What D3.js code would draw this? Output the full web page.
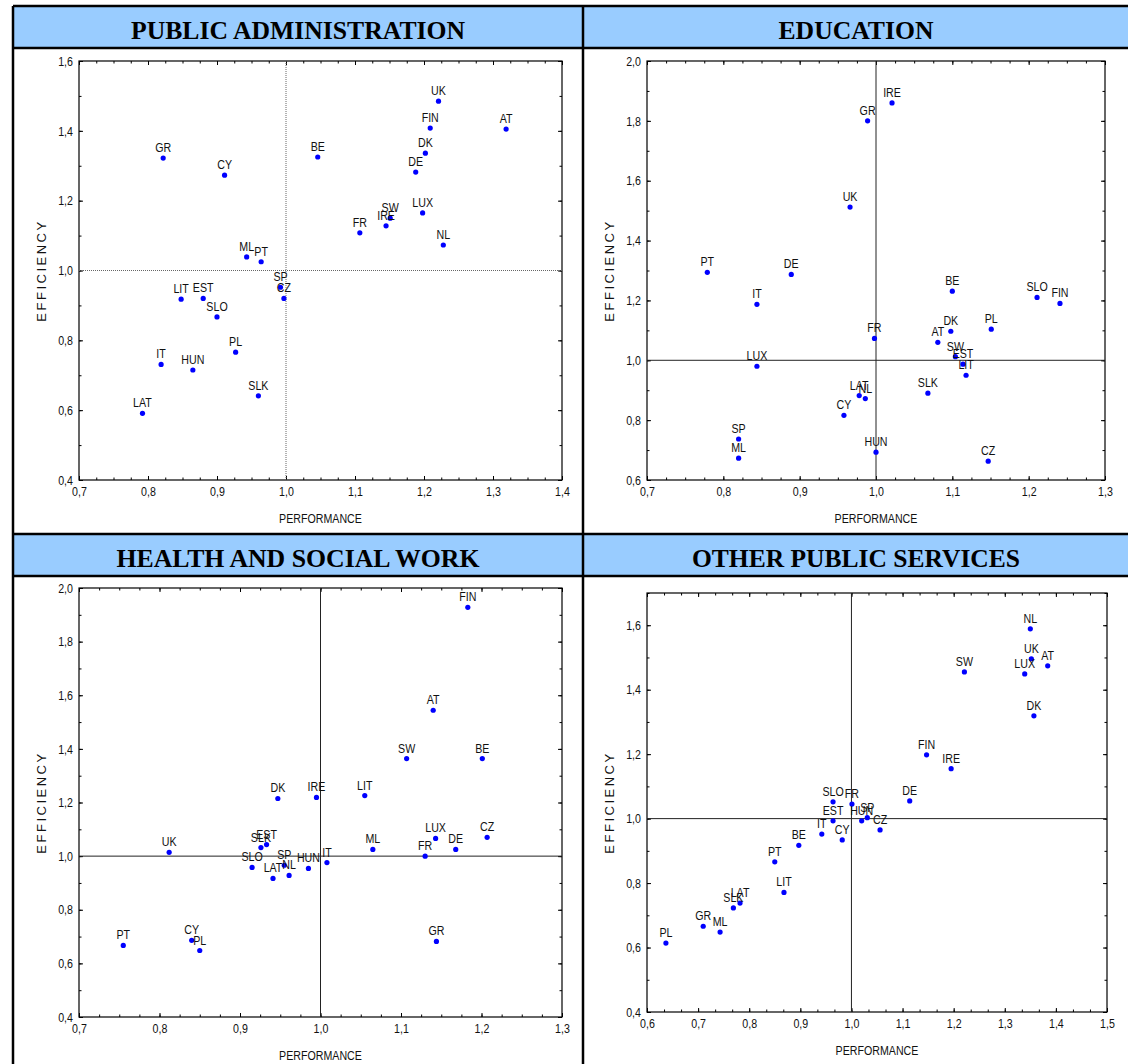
<!DOCTYPE html>
<html>
<head>
<meta charset="utf-8">
<script src="https://cdn.jsdelivr.net/npm/d3@7"></script>
<style>
  body { margin: 0; background: #fff; }
  svg { display: block; }
  .tick text { font-family: "Liberation Sans", Arial, sans-serif; font-size: 13px; fill: #111; }
  .lbl { font-family: "Liberation Sans", Arial, sans-serif; font-size: 13px; fill: #111; }
  .atitle { font-family: "Liberation Sans", Arial, sans-serif; font-size: 13px; fill: #111; }
  .ptitle { font-family: "Liberation Serif", "Times New Roman", serif; font-weight: bold; font-size: 26px; fill: #000; }
</style>
</head>
<body>
<svg id="chart" width="1128" height="1064"></svg>
<script>
// PUBLIC ADMINISTRATION
const paCountries = ["UK","FIN","AT","GR","BE","DK","CY","DE","LUX","SW","IRE","FR","NL","ML","PT","SP","CZ","LIT","EST","SLO","PL","IT","HUN","SLK","LAT"];
const paPerf = [1.221,1.209,1.319,0.822,1.046,1.202,0.911,1.188,1.198,1.151,1.145,1.107,1.228,0.943,0.964,0.992,0.997,0.848,0.880,0.900,0.927,0.819,0.865,0.960,0.792];
const paEff  = [1.485,1.408,1.405,1.322,1.325,1.336,1.273,1.282,1.165,1.150,1.128,1.108,1.073,1.039,1.025,0.952,0.920,0.918,0.920,0.867,0.766,0.731,0.715,0.641,0.591];

// EDUCATION
const edCountries = ["IRE","GR","UK","PT","DE","BE","SLO","FIN","IT","DK","PL","FR","AT","SW","EST","LIT","LUX","SLK","LAT","NL","CY","SP","ML","HUN","CZ"];
const edPerf = [1.021,0.989,0.966,0.779,0.889,1.100,1.211,1.241,0.844,1.098,1.151,0.998,1.081,1.104,1.114,1.118,0.844,1.068,0.978,0.986,0.958,0.820,0.820,1.000,1.147];
const edEff  = [1.860,1.800,1.512,1.294,1.287,1.231,1.210,1.190,1.187,1.097,1.104,1.073,1.060,1.012,0.987,0.950,0.980,0.890,0.882,0.872,0.816,0.737,0.673,0.693,0.663];

// HEALTH AND SOCIAL WORK
const hsCountries = ["FIN","AT","SW","BE","DK","IRE","LIT","UK","SLK","EST","SLO","SP","LAT","NL","HUN","IT","ML","LUX","FR","DE","CZ","PT","CY","PL","GR"];
const hsPerf = [1.183,1.140,1.107,1.201,0.947,0.995,1.055,0.812,0.926,0.933,0.915,0.955,0.941,0.961,0.985,1.008,1.065,1.143,1.130,1.168,1.207,0.755,0.840,0.850,1.144];
const hsEff  = [1.928,1.544,1.364,1.364,1.215,1.219,1.226,1.014,1.032,1.043,0.958,0.966,0.917,0.928,0.954,0.976,1.025,1.066,1.000,1.025,1.070,0.667,0.686,0.648,0.682];

// OTHER PUBLIC SERVICES
const opCountries = ["NL","UK","AT","SW","LUX","DK","FIN","IRE","DE","SLO","FR","EST","HUN","SP","CZ","IT","CY","BE","PT","LIT","LAT","SLK","GR","ML","PL"];
const opPerf = [1.350,1.352,1.384,1.221,1.339,1.357,1.147,1.195,1.114,0.964,1.001,0.964,1.020,1.031,1.056,0.942,0.982,0.897,0.850,0.868,0.782,0.769,0.710,0.743,0.637];
const opEff  = [1.589,1.496,1.474,1.455,1.449,1.319,1.198,1.155,1.055,1.052,1.045,0.993,0.993,1.003,0.965,0.952,0.934,0.917,0.866,0.771,0.738,0.723,0.666,0.648,0.614];

const panels = [
  { title: "PUBLIC ADMINISTRATION", countries: paCountries, perf: paPerf, eff: paEff,
    xDomain: [0.7, 1.4], yDomain: [0.4, 1.6], xTicks: d3.range(0.7, 1.41, 0.1), yTicks: d3.range(0.4, 1.61, 0.2),
    xMinor: 0.025, yMinor: 0.1, box: [79, 61, 562, 480], head: [6, 48], cx: 298, tw: 334, dotted: true },
  { title: "EDUCATION", countries: edCountries, perf: edPerf, eff: edEff,
    xDomain: [0.7, 1.3], yDomain: [0.6, 2.0], xTicks: d3.range(0.7, 1.31, 0.1), yTicks: d3.range(0.6, 2.01, 0.2),
    xMinor: 0.025, yMinor: 0.1, box: [647, 61, 1105, 480], head: [6, 48], cx: 856, tw: 155, dotted: false },
  { title: "HEALTH AND SOCIAL WORK", countries: hsCountries, perf: hsPerf, eff: hsEff,
    xDomain: [0.7, 1.3], yDomain: [0.4, 2.0], xTicks: d3.range(0.7, 1.31, 0.1), yTicks: d3.range(0.4, 2.01, 0.2),
    xMinor: 0.025, yMinor: 0.1, box: [79, 588, 562, 1017], head: [534, 576], cx: 298, tw: 363, dotted: false },
  { title: "OTHER PUBLIC SERVICES", countries: opCountries, perf: opPerf, eff: opEff,
    xDomain: [0.6, 1.5], yDomain: [0.4, 1.7], xTicks: d3.range(0.6, 1.51, 0.1), yTicks: d3.range(0.4, 1.61, 0.2),
    xMinor: 1 / 30, yMinor: 0.1, box: [647, 593, 1107, 1012], head: [534, 576], cx: 856, tw: 328, dotted: false }
];

const narrow = 0.82; // horizontal squeeze to mimic the narrow sans of the original
const svg = d3.select("#chart");
const fmt = d => d3.format(".1f")(d).replace(".", ",");

// header bands
svg.append("rect").attr("x", 13).attr("y", 6).attr("width", 1115).attr("height", 42).attr("fill", "#99ccff");
svg.append("rect").attr("x", 13).attr("y", 534).attr("width", 1115).attr("height", 42).attr("fill", "#99ccff");

// frame lines
const frame = svg.append("g").attr("stroke", "#000").attr("stroke-width", 2.5);
[6, 48, 534, 576].forEach(y => frame.append("line").attr("x1", 13).attr("x2", 1128).attr("y1", y).attr("y2", y));
frame.append("line").attr("x1", 13).attr("x2", 13).attr("y1", 6).attr("y2", 1064);
frame.append("line").attr("x1", 583).attr("x2", 583).attr("y1", 6).attr("y2", 1064);

function minorValues(domain, step) {
  const out = [];
  const n = Math.round((domain[1] - domain[0]) / step);
  for (let i = 0; i <= n; i++) out.push(domain[0] + i * step);
  return out;
}

panels.forEach(p => {
  const [x0, y0, x1, y1] = p.box;
  const x = d3.scaleLinear().domain(p.xDomain).range([x0, x1]);
  const y = d3.scaleLinear().domain(p.yDomain).range([y1, y0]);
  const g = svg.append("g");

  svg.append("text").attr("class", "ptitle")
    .attr("x", p.cx).attr("y", p.head[0] + 33)
    .attr("text-anchor", "middle")
    .attr("textLength", p.tw).attr("lengthAdjust", "spacingAndGlyphs")
    .text(p.title);

  // minor ticks (inward, all four sides)
  const xm = minorValues(p.xDomain, p.xMinor);
  const ym = minorValues(p.yDomain, p.yMinor);
  g.append("g").attr("transform", `translate(0,${y1})`)
    .call(d3.axisBottom(x).tickValues(xm).tickSizeInner(-2.5).tickSizeOuter(0).tickFormat(""));
  g.append("g").attr("transform", `translate(0,${y0})`)
    .call(d3.axisTop(x).tickValues(xm).tickSizeInner(-2.5).tickSizeOuter(0).tickFormat(""));
  g.append("g").attr("transform", `translate(${x0},0)`)
    .call(d3.axisLeft(y).tickValues(ym).tickSizeInner(-2.5).tickSizeOuter(0).tickFormat(""));
  g.append("g").attr("transform", `translate(${x1},0)`)
    .call(d3.axisRight(y).tickValues(ym).tickSizeInner(-2.5).tickSizeOuter(0).tickFormat(""));

  // major ticks with labels
  const xa = g.append("g").attr("transform", `translate(0,${y1})`)
    .call(d3.axisBottom(x).tickValues(p.xTicks).tickSizeInner(-4).tickSizeOuter(0).tickPadding(7).tickFormat(fmt));
  const ya = g.append("g").attr("transform", `translate(${x0},0)`)
    .call(d3.axisLeft(y).tickValues(p.yTicks).tickSizeInner(-4).tickSizeOuter(0).tickPadding(6).tickFormat(fmt));
  g.append("g").attr("transform", `translate(0,${y0})`)
    .call(d3.axisTop(x).tickValues(p.xTicks).tickSizeInner(-4).tickSizeOuter(0).tickFormat(""));
  g.append("g").attr("transform", `translate(${x1},0)`)
    .call(d3.axisRight(y).tickValues(p.yTicks).tickSizeInner(-4).tickSizeOuter(0).tickFormat(""));

  xa.selectAll(".tick text").attr("transform", `scale(${narrow},1)`);
  ya.selectAll(".tick text").attr("x", -6 / narrow).attr("transform", `scale(${narrow},1)`);

  g.selectAll(".domain").remove();
  g.selectAll(".tick line").attr("stroke", "#000");

  // plot box
  g.append("rect").attr("x", x0).attr("y", y0).attr("width", x1 - x0).attr("height", y1 - y0)
    .attr("fill", "none").attr("stroke", "#000").attr("stroke-width", 1.2);

  // reference lines at 1,0
  const ref = g.append("g").attr("stroke", p.dotted ? "#666" : "#222").attr("stroke-width", 1)
    .attr("stroke-dasharray", p.dotted ? "1,1" : null);
  ref.append("line").attr("x1", x(1)).attr("x2", x(1)).attr("y1", y0).attr("y2", y1);
  ref.append("line").attr("x1", x0).attr("x2", x1).attr("y1", y(1)).attr("y2", y(1));

  // axis titles
  g.append("text").attr("class", "atitle")
    .attr("transform", `translate(${(x0 + x1) / 2},${y1 + 43}) scale(${narrow},1)`)
    .attr("text-anchor", "middle")
    .text("PERFORMANCE");
  g.append("text").attr("class", "atitle")
    .attr("transform", `translate(${x0 - 33},${(y0 + y1) / 2}) rotate(-90)`)
    .attr("text-anchor", "middle").attr("letter-spacing", "2.5px")
    .text("EFFICIENCY");

  // points
  const pts = p.countries.map((c, i) => ({ c, px: p.perf[i], py: p.eff[i] }));
  g.selectAll("circle").data(pts).join("circle")
    .attr("cx", d => x(d.px)).attr("cy", d => y(d.py)).attr("r", 2.6).attr("fill", "#0000ff");
  g.selectAll(".lbl").data(pts).join("text").attr("class", "lbl")
    .attr("transform", d => `translate(${x(d.px)},${y(d.py) - 6}) scale(${narrow},1)`)
    .attr("text-anchor", "middle")
    .text(d => d.c);
});
</script>
</body>
</html>
